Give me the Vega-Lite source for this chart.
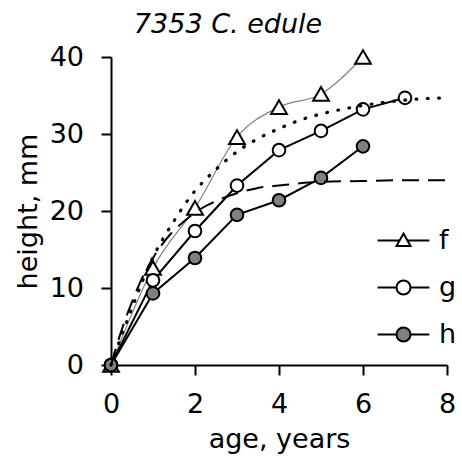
{
  "$schema": "https://vega.github.io/schema/vega-lite/v6.json",
  "width": 336,
  "height": 308,
  "autosize": {"type": "none"},
  "padding": {"left": 111, "top": 57, "right": 15, "bottom": 92},
  "background": "white",
  "config": {
    "view": {"stroke": null},
    "font": "DejaVu Sans",
    "axis": {
      "domainColor": "black",
      "domainWidth": 2,
      "tickColor": "black",
      "tickWidth": 2,
      "tickSize": 10,
      "labelFont": "DejaVu Sans",
      "labelFontSize": 27,
      "labelColor": "black",
      "titleFont": "DejaVu Sans",
      "titleFontSize": 27,
      "titleFontWeight": "normal",
      "titleColor": "black",
      "grid": false,
      "labelFlush": false,
      "labelOverlap": false
    },
    "legend": {
      "orient": "none",
      "legendX": 279,
      "legendY": 170,
      "direction": "vertical",
      "symbolSize": 196,
      "symbolStrokeWidth": 2,
      "symbolOpacity": 1,
      "labelFont": "DejaVu Sans",
      "labelFontSize": 27,
      "labelColor": "black",
      "rowPadding": 19,
      "labelOffset": 22,
      "padding": 0
    }
  },
  "title": {
    "text": "7353 C. edule",
    "font": "DejaVu Sans",
    "fontSize": 27,
    "fontStyle": "italic",
    "fontWeight": "normal",
    "color": "black",
    "anchor": "middle",
    "frame": "group",
    "dx": -51,
    "dy": 27,
    "baseline": "alphabetic",
    "offset": 10
  },
  "datasets": {
    "growth": [
      {"series": "f", "age": 0, "height": 0},
      {"series": "f", "age": 1, "height": 12.6},
      {"series": "f", "age": 2, "height": 20.4},
      {"series": "f", "age": 3, "height": 29.6},
      {"series": "f", "age": 4, "height": 33.5},
      {"series": "f", "age": 5, "height": 35.2},
      {"series": "f", "age": 6, "height": 40.0},
      {"series": "g", "age": 0, "height": 0},
      {"series": "g", "age": 1, "height": 11.0},
      {"series": "g", "age": 2, "height": 17.4},
      {"series": "g", "age": 3, "height": 23.3},
      {"series": "g", "age": 4, "height": 27.9},
      {"series": "g", "age": 5, "height": 30.4},
      {"series": "g", "age": 6, "height": 33.2},
      {"series": "g", "age": 7, "height": 34.7},
      {"series": "h", "age": 0, "height": 0},
      {"series": "h", "age": 1, "height": 9.3},
      {"series": "h", "age": 2, "height": 13.9},
      {"series": "h", "age": 3, "height": 19.5},
      {"series": "h", "age": 4, "height": 21.4},
      {"series": "h", "age": 5, "height": 24.3},
      {"series": "h", "age": 6, "height": 28.4}
    ],
    "fits": [
      {"curve": "dotted", "age": 0, "height": 0},
      {"curve": "dotted", "age": 0.25, "height": 3.8},
      {"curve": "dotted", "age": 0.5, "height": 7.4},
      {"curve": "dotted", "age": 0.75, "height": 10.9},
      {"curve": "dotted", "age": 1, "height": 14.0},
      {"curve": "dotted", "age": 1.25, "height": 16.5},
      {"curve": "dotted", "age": 1.5, "height": 18.7},
      {"curve": "dotted", "age": 1.75, "height": 20.8},
      {"curve": "dotted", "age": 2, "height": 22.6},
      {"curve": "dotted", "age": 2.5, "height": 25.4},
      {"curve": "dotted", "age": 3, "height": 27.7},
      {"curve": "dotted", "age": 3.5, "height": 29.4},
      {"curve": "dotted", "age": 4, "height": 30.7},
      {"curve": "dotted", "age": 4.5, "height": 31.8},
      {"curve": "dotted", "age": 5, "height": 32.6},
      {"curve": "dotted", "age": 5.5, "height": 33.2},
      {"curve": "dotted", "age": 6, "height": 33.7},
      {"curve": "dotted", "age": 6.5, "height": 34.1},
      {"curve": "dotted", "age": 7, "height": 34.4},
      {"curve": "dotted", "age": 7.5, "height": 34.6},
      {"curve": "dotted", "age": 8, "height": 34.7},
      {"curve": "dashed", "age": 0, "height": 0},
      {"curve": "dashed", "age": 0.25, "height": 4.5},
      {"curve": "dashed", "age": 0.5, "height": 8.2},
      {"curve": "dashed", "age": 0.75, "height": 11.4},
      {"curve": "dashed", "age": 1, "height": 13.9},
      {"curve": "dashed", "age": 1.25, "height": 15.9},
      {"curve": "dashed", "age": 1.5, "height": 17.5},
      {"curve": "dashed", "age": 1.75, "height": 18.7},
      {"curve": "dashed", "age": 2, "height": 19.8},
      {"curve": "dashed", "age": 2.5, "height": 21.3},
      {"curve": "dashed", "age": 3, "height": 22.3},
      {"curve": "dashed", "age": 3.5, "height": 23.0},
      {"curve": "dashed", "age": 4, "height": 23.3},
      {"curve": "dashed", "age": 4.5, "height": 23.6},
      {"curve": "dashed", "age": 5, "height": 23.8},
      {"curve": "dashed", "age": 6, "height": 23.9},
      {"curve": "dashed", "age": 7, "height": 24.0},
      {"curve": "dashed", "age": 8, "height": 24.0}
    ]
  },
  "encoding": {
    "x": {
      "field": "age",
      "type": "quantitative",
      "scale": {"domain": [0, 8], "nice": false, "zero": false},
      "axis": {
        "title": "age, years",
        "values": [0, 2, 4, 6, 8],
        "labelPadding": 16,
        "titleY": 82,
        "titleBaseline": "alphabetic"
      }
    },
    "y": {
      "field": "height",
      "type": "quantitative",
      "scale": {"domain": [0, 40], "nice": false},
      "axis": {
        "title": "height, mm",
        "values": [0, 10, 20, 30, 40],
        "labelPadding": 17.5,
        "titleX": -75,
        "titleY": 154,
        "titleAngle": -90,
        "titleBaseline": "alphabetic"
      }
    }
  },
  "layer": [
    {
      "data": {"name": "growth"},
      "mark": {"type": "point", "filled": true, "stroke": "black", "strokeWidth": 2, "opacity": 0},
      "encoding": {
        "shape": {
          "field": "series",
          "type": "nominal",
          "scale": {
            "domain": ["f", "g", "h"],
            "range": [
              "M-3.7,0L-0.56,0M0.56,0L3.7,0M0,-1L1,0.8L-1,0.8Z",
              "M-3.7,0L-1,0M1,0L3.7,0M-1,0C-1,-0.5523,-0.5523,-1,0,-1C0.5523,-1,1,-0.5523,1,0C1,0.5523,0.5523,1,0,1C-0.5523,1,-1,0.5523,-1,0Z",
              "M-3.7,0L-1,0M1,0L3.7,0M-1,0C-1,-0.5523,-0.5523,-1,0,-1C0.5523,-1,1,-0.5523,1,0C1,0.5523,0.5523,1,0,1C-0.5523,1,-1,0.5523,-1,0Z"
            ]
          },
          "legend": {"title": null}
        },
        "fill": {
          "field": "series",
          "type": "nominal",
          "scale": {"domain": ["f", "g", "h"], "range": ["white", "white", "#808080"]},
          "legend": {"title": null}
        }
      }
    },
    {
      "data": {"name": "growth"},
      "transform": [{"filter": "datum.series === 'f'"}],
      "mark": {"type": "line", "stroke": "#808080", "strokeWidth": 1.2, "interpolate": "monotone"}
    },
    {
      "data": {"name": "growth"},
      "transform": [{"filter": "datum.series !== 'f'"}],
      "mark": {"type": "line", "stroke": "black", "strokeWidth": 2},
      "encoding": {"detail": {"field": "series"}}
    },
    {
      "data": {"name": "growth"},
      "transform": [{"filter": "datum.series === 'f'"}],
      "mark": {"type": "point", "shape": "triangle-up", "size": 250, "filled": true, "fill": "white", "stroke": "black", "strokeWidth": 2, "opacity": 1}
    },
    {
      "data": {"name": "growth"},
      "transform": [{"filter": "datum.series === 'g'"}],
      "mark": {"type": "point", "shape": "circle", "size": 160, "filled": true, "fill": "white", "stroke": "black", "strokeWidth": 2, "opacity": 1}
    },
    {
      "data": {"name": "growth"},
      "transform": [{"filter": "datum.series === 'h'"}],
      "mark": {"type": "point", "shape": "circle", "size": 160, "filled": true, "fill": "#808080", "stroke": "black", "strokeWidth": 2, "opacity": 1}
    },
    {
      "data": {"name": "fits"},
      "transform": [{"filter": "datum.curve === 'dotted'"}],
      "mark": {"type": "line", "stroke": "black", "strokeWidth": 3.2, "strokeCap": "round", "strokeDash": [0.8, 10.5], "interpolate": "monotone"}
    },
    {
      "data": {"name": "fits"},
      "transform": [{"filter": "datum.curve === 'dashed'"}],
      "mark": {"type": "line", "stroke": "black", "strokeWidth": 2, "strokeDash": [17, 9], "interpolate": "monotone"}
    }
  ]
}
